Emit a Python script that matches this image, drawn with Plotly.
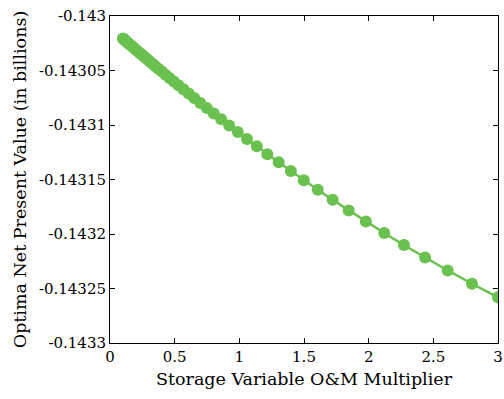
import plotly.graph_objects as go

multiplier = [0.1, 0.10718, 0.11488, 0.12314, 0.13199, 0.14148, 0.15165, 0.16255, 0.17423, 0.18676,
              0.20018, 0.21457, 0.23000, 0.24653, 0.26425, 0.28324, 0.30360, 0.32543, 0.34882, 0.37389,
              0.40077, 0.42957, 0.46045, 0.49355, 0.52903, 0.56706, 0.60782, 0.65151, 0.69834, 0.74854,
              0.80234, 0.86001, 0.92183, 0.98809, 1.05911, 1.13523, 1.21683, 1.30429, 1.39804, 1.49853,
              1.60624, 1.72169, 1.84544, 1.97809, 2.12027, 2.27267, 2.43602, 2.61112, 2.79883, 3.0]

npv = [-0.14302065, -0.14302139, -0.14302219, -0.14302304, -0.14302395, -0.14302492, -0.14302596,
       -0.14302708, -0.14302827, -0.14302955, -0.14303092, -0.14303238, -0.14303394, -0.14303561,
       -0.14303740, -0.14303931, -0.14304136, -0.14304354, -0.14304587, -0.14304836, -0.14305102,
       -0.14305386, -0.14305689, -0.14306012, -0.14306357, -0.14306724, -0.14307116, -0.14307533,
       -0.14307976, -0.14308448, -0.14308950, -0.14309483, -0.14310049, -0.14310650, -0.14311286,
       -0.14311960, -0.14312673, -0.14313426, -0.14314221, -0.14315059, -0.14315941, -0.14316867,
       -0.14317838, -0.14318853, -0.14319913, -0.14321017, -0.14322162, -0.14323345, -0.14324563,
       -0.14325805]

x_tickvals = [0, 0.5, 1, 1.5, 2, 2.5, 3]
x_ticktext = ["0", "0.5", "1", "1.5", "2", "2.5", "3"]
y_tickvals = [-0.1433, -0.14325, -0.1432, -0.14315, -0.1431, -0.14305, -0.143]
y_ticktext = ["-0.1433", "-0.14325", "-0.1432", "-0.14315", "-0.1431", "-0.14305", "-0.143"]

green = "rgb(106,193,80)"
font_family = "DejaVu Serif"

fig = go.Figure()
fig.add_trace(go.Scatter(
    x=multiplier, y=npv, mode="lines+markers",
    line=dict(color=green, width=2.5),
    marker=dict(color=green, size=12, line=dict(width=0)),
    cliponaxis=True, showlegend=False,
))

axis_common = dict(
    showline=True, linecolor="black", linewidth=1, mirror="ticks",
    ticks="inside", ticklen=5, tickcolor="black", tickwidth=1,
    showgrid=False, zeroline=False, ticklabeloverflow="allow",
    tickfont=dict(family=font_family, size=15, color="black"),
)

fig.update_layout(
    width=504, height=399,
    margin=dict(l=110, r=1, t=16, b=56),
    paper_bgcolor="white", plot_bgcolor="white",
    font=dict(family=font_family, color="black"),
    xaxis=dict(range=[0, 3], tickvals=x_tickvals, ticktext=x_ticktext,
               title=dict(text="Storage Variable O&M Multiplier", standoff=7,
                          font=dict(family=font_family, size=17.5, color="black")),
               **axis_common),
    yaxis=dict(range=[-0.1433, -0.143], tickvals=y_tickvals, ticktext=y_ticktext,
               title=dict(text="Optima Net Present Value (in billions)", standoff=7,
                          font=dict(family=font_family, size=17.5, color="black")),
               **axis_common),
)

fig.write_html("out.html")
